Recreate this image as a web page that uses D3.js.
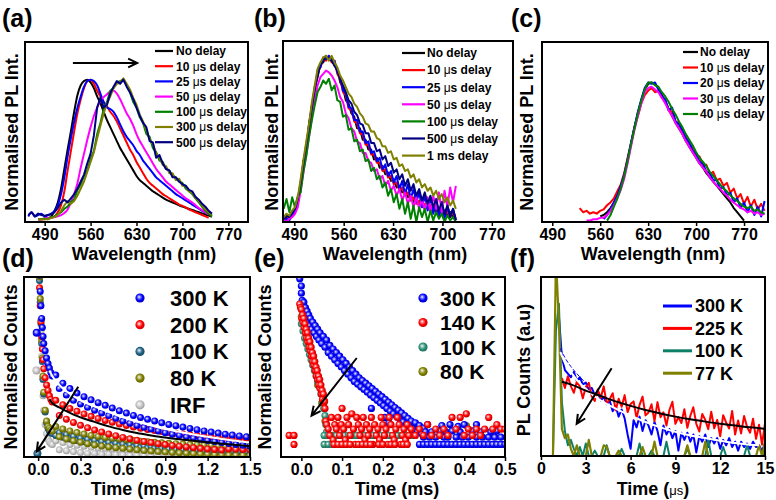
<!DOCTYPE html>
<html><head><meta charset="utf-8">
<script src="https://cdn.jsdelivr.net/npm/d3@7/dist/d3.min.js"></script>
<style>html,body{margin:0;padding:0;background:#fff;} svg{display:block}</style>
</head><body>
<svg id="chart" width="776" height="500"></svg>
<script>
// ================= DATA =================
const ticksWl = [490, 560, 630, 700, 770];
const ticksD = [0, 0.3, 0.6, 0.9, 1.2, 1.5];
const ticksE = [0, 0.1, 0.2, 0.3, 0.4, 0.5];
const ticksF = [0, 3, 6, 9, 12, 15];

// ---- (a) delayed PL spectra ----
const legendA = ["No delay","10 μs delay","25 μs delay","50 μs delay","100 μs delay","300 μs delay","500 μs delay"];
const wlA = [465,470,475,480,485,490,495,500,505,510,515,520,525,530,535,540,545,550,555,560,565,570,575,580,585,590,595,600,605,610,615,620,625,630,635,640,645,650,655,660,665,670,675,680,685,690,695,700,705,710,715,720,725,730,735,740,745];
const aNo   = [null,null,null,0,0,0.3,0.5,2,6,12,22,36,50,63,77,89,96,99,100,98,94,88,83,77,71,66,61,56,51,47,43,39,35,31,28,26,24,22,20,18.5,17,15.5,14,13,12,11,10,9,8.2,7.4,6.6,5.8,5,4.2,3.4,2.6,1.8];
const a10   = [null,null,null,0,0,0,0.5,1,2,5,10,20,35,49,63,76,86,94,99,100,97,92,88,84,81,77,74,70,65,60,55,50,46,41,37,33,29,26,24,22,20,18,16.5,15,13.5,12,10.5,9.5,8.5,7,6,5,4,3,2,1,null];
const a25   = [2,5,2,3,4,2,3,4,6,10,18,30,45,58,70,80,88,95,99,100,99,96,90,84,80,79,77,73,68,63,59,56,53,49,46,42,39,36,33,30,28,26,24,22,20,18,16.5,15,13.5,12,10.5,9,7.5,6,5,4,3];
const a50   = [null,null,null,0,0,0.5,1,1,1.5,2,3,4.5,7,12,18,26,37,47,57,66,74,80,85,87.5,89.5,91.5,92,90,86,81,76,72,67,61,56,52,48,44,40,36,33,30,27,25,23,21,19,17,15,13.5,12,10,8,6.5,5,3.5,null];
const a100  = [null,null,null,0,0,0.5,0,1.5,2,3.5,5,7.5,9,12.5,14,21,25,31,35,43,49,61,69,79,84,92,94,98,99,100,96,91,84,80,73,69,61,59,51,48,42,41,36,35,31,30,27,26,22,20,18,15,12,9,6,4,2];
const a300  = [null,null,null,0,0,0,0,1,1.5,3,6,10,13,11,13,17,22,27,34,41,48,58,67,76,83,88,94,97,98,101,97,93,87,82,75,70,64,57,54,47,44,39,38,33,33,28,29,24,24,20,19,15,13,10,7,5,3];
const a500  = [3,5,2,4,3,2.5,3,3.5,5,8,12,14,12,15,18,22,27,32,40,47,60,80,87,80,82,90,95,99,97,100,95,91,86,80,74,69,66,56,55,44,46,40,36,35,30,30,27,25,24,21,20,16,14,11,9,6,4];
const arrowA = [[533,112],[631,112]];

// ---- (b) ----
const legendB = ["No delay","10 μs delay","25 μs delay","50 μs delay","100 μs delay","500 μs delay","1 ms delay"];
const wlB = [475,479,483,487,491,495,499,503,507,511,515,519,523,527,531,535,539,543,547,551,555,559,563,567,571,575,579,583,587,591,595,599,603,607,611,615,619,623,627,631,635,639,643,647,651,655,659,663,667,671,675,679,683,687,691,695,699,703,707,711,715,719];
const bNo  = [1,3,2,5,7,13,20,36,44,60,69,82,88,96,97,101,99,100,95,93,85,82,74,72,66,64,57,57,50,50,44,44,38,39,33,34,29,30,25,26,21,22,18,19,15,16,12,14,10,12,8,10,7,9,6,8,5,7,4,6,3,4];
const b10  = [2,1,4,3,6,11,23,33,47,56,71,79,91,94,99,98,101,97,98,90,87,79,77,69,68,61,60,54,53,47,47,41,41,36,36,31,32,27,28,23,24,19,21,16,18,13,15,11,13,9,11,8,10,6,9,5,8,4,7,3,6,2];
const b25  = [0,2,1,4,6,14,21,37,43,59,71,80,92,94,100,99,101,98,98,91,88,80,78,70,69,62,62,55,55,48,49,42,43,37,39,32,35,28,31,24,28,20,25,17,23,14,20,12,18,9,16,7,15,5,13,3,12,2,10,4,8,1];
const b50  = [1,0,2,3,5,9,19,30,41,52,64,74,83,88,90,92,91,89,86,82,76,73,66,63,57,55,49,48,42,42,37,36,31,32,26,28,22,25,19,22,16,20,13,18,11,16,9,15,8,14,7,15,6,16,8,18,6,19,9,21,12,22];
const b100 = [8,14,6,15,9,16,18,31,40,52,62,71,79,82,86,84,87,80,83,74,73,64,65,56,57,49,50,43,44,37,38,31,33,26,28,21,24,16,20,12,17,8,14,5,12,2,10,0,9,3,8,0,7,1,6,2,5,0,4,1,3,0];
const b500 = [2,4,3,6,8,14,24,36,47,58,70,81,89,96,98,100,99,98,95,92,87,83,79,74,72,67,65,60,59,54,54,48,48,43,44,38,40,34,36,30,32,26,29,22,26,19,23,16,20,13,18,11,16,9,14,7,12,5,10,3,8,1];
const b1ms = [3,5,4,7,9,15,26,38,49,60,73,83,93,97,100,101,98,101,97,94,89,86,82,78,76,72,70,66,64,60,59,55,55,51,50,46,46,42,43,38,39,34,35,31,32,27,29,24,26,21,23,19,21,16,19,14,17,12,15,10,13,8];

// ---- (c) ----
const legendC = ["No delay","10 μs delay","20 μs delay","30 μs delay","40 μs delay"];
const wlC = [530,535,540,545,550,555,560,565,570,575,580,585,590,595,600,605,610,615,620,625,630,635,640,645,650,655,660,665,670,675,680,685,690,695,700,705,710,715,720,725,730,735,740,745,750,755,760,765,770,775,780,785,790,795,800];
const cNo = [null,null,null,null,null,null,4,5,7,10,14,19,25,33,44,56,68,78,87,95,99,100,99,96,91,86,81,76,71,67,63,58,54,50,46,42,39,35,32,29,26,23,20,17,14,10,7,4,1,null,null,null,null,null,null];
const c10 = [10,7,8,6,7,6,8,9,12,14,17,22,27,35,46,56,68,76,85,91,94,96,93,94,89,87,80,79,72,71,64,62,55,54,47,47,40,41,34,36,30,31,26,28,21,24,17,20,13,18,11,16,9,13,8];
const c20 = [null,null,null,null,null,null,null,2,5,9,14,19,26,34,45,57,68,79,88,96,100,99,100,95,90,88,80,82,72,70,66,60,57,51,49,43,42,36,35,30,30,24,25,19,21,14,17,10,14,7,12,5,11,4,15];
const c30 = [null,null,1,1,2,2,3,3,5,8,12,17,23,31,42,54,66,76,85,93,96,97,95,93,89,85,80,76,71,67,63,58,54,50,46,42,39,36,32,29,26,24,21,19,16,14,12,10,9,7,8,6,7,5,6];
const c40 = [null,null,null,null,null,null,null,null,1,5,11,17,24,33,44,56,67,78,87,95,100,100,98,97,93,90,86,81,77,72,68,63,59,55,50,46,43,40,36,33,30,27,24,22,19,17,15,13,11,10,11,8,9,7,6];

// ---- (d) decays, scatter ----
const legendD = ["300 K","200 K","100 K","80 K","IRF"];
const tD = [0,0.005,0.01,0.015,0.02,0.025,0.03,0.035,0.04,0.05,0.06,0.07,0.08,0.09,0.1,
 0.125,0.15,0.175,0.2,0.225,0.25,0.275,0.3,0.325,0.35,0.375,0.4,0.425,0.45,0.475,0.5,
 0.525,0.55,0.575,0.6,0.625,0.65,0.675,0.7,0.725,0.75,0.775,0.8,0.825,0.85,0.875,0.9,
 0.925,0.95,0.975,1.0,1.025,1.05,1.075,1.1,1.125,1.15,1.175,1.2,1.225,1.25,1.275,1.3,
 1.325,1.35,1.375,1.4,1.425,1.45,1.475,1.5];
const d300 = [118,110,101,92,84,77,72,67,63,59,55,52,49.5,47,45,
 45.5,38,41,34.5,38,31.5,35.5,29.5,33.5,27.6,31.8,26,30.2,24.5,28.7,23,
 27.2,21.5,25.7,20,24.4,18.8,23.1,17.5,22,16.5,21,15.5,20,14.5,19,13.5,
 18.1,12.7,17.4,12,16.6,11.2,15.9,10.5,15.2,9.8,14.5,9.2,13.9,8.6,13.3,8,
 12.7,7.5,12.2,7,11.7,6.5,11.2,6];
const d200 = [115,104,94,84,75,67,60,54,49,44,40,37,34,32,30.5,
 31.5,23,29,21,27,19.2,25.4,17.6,23.9,16.2,22.6,15,21.4,13.9,20.3,12.8,
 19.3,11.8,18.3,10.9,17.5,10.1,16.7,9.3,16,8.6,15.3,8,14.7,7.4,14.1,6.9,
 13.6,6.4,13.2,6,12.8,5.6,12.4,5.2,12,4.8,11.6,4.5,11.3,4.2,11,3.9,
 10.7,4.5,10.5,4.3,10.3,4.1,10.1,4];
const d100 = [120,110,98,86,74,63,53,43,35,25,19,16,14.5,13.5,13,
 12,13.5,11,12.5,10,11.5,9.2,10.5,8.5,9.8,8,9.2,7.5,8.6,7,8.1,
 6.5,7.6,6.2,7.2,5.8,6.8,5.5,6.4,5.2,6.1,5,5.8,4.8,5.6,4.6,5.3,
 4.4,5.1,4.2,4.9,4,4.7,3.9,4.5,3.8,4.3,3.6,4.1,3.5,4,3.4,3.8,
 3.3,3.7,3.2,3.6,3.1,3.5,3,3.3];
const d80 = [125,112,100,88,76,65,55,45,36,26,20,17,16,15,14.5,
 17,11.2,15.6,10,14.5,9,13.6,8.2,12.8,7.4,12,6.7,11.4,6.1,10.8,5.6,
 10.4,5.2,10,4.8,9.6,4.4,9.2,4,8.8,3.6,8.5,3.3,8.2,3,7.9,2.8,
 7.6,2.5,7.4,2.3,7.2,2.1,7,1.9,6.8,1.7,6.6,1.5,6.4,1.3,6.2,1.2,
 6.1,1.1,6,1,6,0.9,5.9,0.8];
const dIRF = [128,116,100,84,70,56,44,34,26,18,13,10,8.5,7.5,7,
 9,4,8,3.5,7,3,6.5,2.5,6,2,5.5,2,5,1.5,4.8,1.5,
 4.5,1.2,4.3,1.2,4.1,1,4,1,3.8,1,3.7,0.8,3.6,0.8,3.5,0.8,
 3.4,0.7,3.3,0.7,3.2,0.7,3.1,0.6,3,0.6,3,0.6,2.9,0.6,2.9,0.5,
 2.8,0.5,2.8,0.5,2.7,0.5,2.7,0.5];
const dExtra = [["300 K",-0.01,69],["IRF",-0.012,48],["100 K",-0.005,2]];
const fitD300 = [[0.08,48],[0.1,45],[0.15,40],[0.2,36.5],[0.3,31.5],[0.4,28],[0.5,25],[0.6,22],[0.7,19.5],[0.8,17.5],[0.9,15.5],[1.0,14],[1.1,12.5],[1.2,11.2],[1.3,10],[1.4,9],[1.5,8]];
const fitD200 = [[0.08,32],[0.1,30],[0.15,27.5],[0.2,25.5],[0.3,22],[0.4,19.5],[0.5,17],[0.6,15],[0.7,13.3],[0.8,12],[0.9,10.8],[1.0,9.8],[1.1,9],[1.2,8.2],[1.3,7.4],[1.4,6.7],[1.5,6]];
const arrowD = [[0.284,39],[-0.01,3]];

// ---- (e) ----
const legendE = ["300 K","140 K","100 K","80 K"];
const e300 = [[-0.004,99],[0,95],[0,91],[0.002,87],[0.004,84],[0.006,86],[0.008,80],[0.01,83],[0.012,77],[0.014,81],[0.016,75],[0.018,79],[0.02,73],[0.022,77],[0.025,71],[0.028,75],[0.031,69],[0.034,73],[0.037,67],[0.04,71],[0.043,65],[0.046,69],[0.05,63],[0.054,67],[0.058,61],[0.062,65],[0.066,58],[0.07,62],[0.074,56],[0.078,60],[0.082,54],[0.086,58],[0.09,52],[0.094,56],[0.098,50],[0.102,54],[0.106,48],[0.11,52],[0.114,46],[0.118,50],[0.122,44],[0.126,48],[0.13,42],[0.134,46],[0.138,40.5],[0.142,44],[0.146,39],[0.15,42.5],[0.154,37.5],[0.158,41],[0.162,36],[0.166,39.5],[0.17,34.5],[0.174,38],[0.178,33],[0.182,36.5],[0.186,31.5],[0.19,35],[0.194,30],[0.198,33.5],[0.202,28.5],[0.206,32],[0.21,27],[0.214,30.5],[0.218,25.5],[0.222,29],[0.226,24],[0.23,27.5],[0.234,22.5],[0.238,26],[0.242,21],[0.246,24.5],[0.25,19.5],[0.254,23],[0.258,18],[0.262,21.5],[0.266,17],[0.27,20],[0.275,15.5],[0.28,19],[0.285,14],[0.29,17.5],[0.295,13],[0.3,16],
 [0.172,27],[0.205,22],[0.215,19],
 [0.29,7],[0.3,7],[0.31,7],[0.32,7],[0.33,7],[0.34,7],[0.35,7],[0.36,7],[0.37,7],[0.38,7],[0.39,7],[0.4,7],[0.41,7],[0.42,7],[0.43,7],[0.44,7],[0.45,7],[0.46,7],[0.47,7],[0.48,7],[0.49,7],[0.5,7],
 [0.3,11],[0.315,11],[0.33,11],[0.35,11],[0.36,11],[0.38,11],[0.395,11],[0.41,11],[0.43,11],[0.445,11],[0.46,11],[0.475,11],[0.49,11],
 [0.305,14],[0.32,14],[0.34,14.5],[0.355,14],[0.37,14.5],[0.39,14],[0.42,14.5],[0.44,14],[0.465,14],[0.48,14.5],
 [0.31,18],[0.345,17.5],[0.365,18],[0.385,17],[0.4,18],[0.43,18]];
const e140 = [[-0.004,85],[-0.002,83],[0,82],[0.001,77],[0.003,79],[0.004,75],[0.006,77],[0.007,72],[0.009,74],[0.01,69],[0.012,71],[0.013,66],[0.015,69],[0.016,64],[0.018,66],[0.019,61],[0.021,64],[0.022,59],[0.024,61],[0.025,56],[0.027,58],[0.028,53],[0.03,56],[0.031,51],[0.033,53],[0.034,48],[0.036,50],[0.037,45],[0.039,48],[0.04,43],[0.042,45],[0.043,40],[0.045,43],[0.046,38],[0.048,40],[0.049,35],[0.051,37],[0.052,32],[0.054,35],[0.055,30],[0.057,31],[0.058,27],
 [0.06,20],[0.062,18],[0.066,15.5],[0.07,12],[0.074,22],[0.078,9.5],[0.082,18],[0.086,15.5],[0.09,22],[0.094,12],[0.098,18],[0.1,27],[0.104,15.5],[0.108,9.5],[0.112,22],[0.116,18],[0.12,12],[0.124,24],[0.128,15.5],[0.132,7],[0.136,22],[0.14,18],[0.144,12],[0.148,15.5],[0.152,22],[0.156,9.5],[0.16,18],[0.164,12],[0.168,15.5],[0.172,22],[0.176,7],[0.18,18],[0.184,12],[0.188,15.5],[0.192,9.5],[0.196,22],[0.2,18],[0.204,12],[0.208,15.5],[0.212,7],[0.216,22],[0.22,18],[0.224,12],[0.228,9.5],[0.232,15.5],[0.236,22],[0.24,18],[0.244,7],[0.248,12],[0.252,15.5],[0.256,9.5],[0.26,18],[0.264,12],[0.27,15.5],[0.28,12],[0.29,15.5],[0.3,12],[0.31,18],[0.32,12],[0.33,15.5],[0.34,12],[0.35,15.5],[0.36,12],[0.37,22],[0.38,15.5],[0.39,22],[0.4,12],[0.405,24],[0.41,15.5],[0.42,12],[0.43,15.5],[0.44,12],[0.45,15.5],[0.46,22],[0.47,15.5],[0.48,18],[0.49,15.5],[0.5,15.5],
 [0.08,7],[0.09,7],[0.1,7],[0.11,7],[0.12,7],[0.14,7],[0.15,7],[0.16,7],[0.17,7],[0.19,7],[0.2,7],[0.22,7],[0.23,7],[0.25,7],[0.26,7],
 [-0.03,12],[-0.018,12],[-0.018,7]];
const e100 = [[0,74],[0.004,70],[0.008,66],[0.012,63],[0.016,60],[0.02,57],[0.024,54],[0.028,51],[0.032,48],[0.036,45],[0.04,42],[0.044,39],[0.048,35],[0.052,31],[0.055,27],[0.058,23],[0.06,18],[0.062,14],
 [0.056,12],[0.066,12],[0.076,12],[0.086,12],[0.096,12],[0.106,12],[0.116,12],[0.126,12],[0.136,12],[0.146,12],[0.156,12],[0.166,12],[0.176,12],[0.186,12],[0.196,12],[0.206,12],[0.216,12],[0.226,12],[0.236,12],[0.246,12],[0.256,12],[0.266,12],[0.276,12],
 [0.056,7],[0.066,7],[0.076,7],[0.086,7],[0.096,7],[0.106,7]];
const e80 = [[0,78],[0.01,70],[0.02,62],[0.03,52],[0.04,40],[0.05,30],[0.058,20],[0.062,12],[0.14,12],[0.405,17.5]];
const arrowE = [[0.136,55],[0.025,23]];

// ---- (f) ----
const legendF = ["300 K","225 K","100 K","77 K"];
const tF = [0.8,1.0,1.2,1.4,1.6,1.8,2.0,2.2,2.4,2.6,2.8,3.0,3.2,3.4,3.6,3.8,4.0,4.2,4.4,4.6,4.8,5.0,5.2,5.4,5.6,5.8,6.0,6.2,6.4,6.6,6.8,7.0,7.2,7.4,7.6,7.8,8.0,8.2,8.4,8.6,8.8,9.0,9.2,9.4,9.6,9.8,10.0,10.2,10.4,10.6,10.8,11.0,11.2,11.4,11.6,11.8,12.0,12.2,12.4,12.6,12.8,13.0,13.2,13.4,13.6,13.8,14.0,14.2,14.4,14.6,14.8,15.0];
const f300 = [null,null,78,55,48,46,44,47,42,44,40,41,37,38,34,36,31,33,29,31,25,28,22,26,21,12,4,20,16,22,14,20,17,12,19,14,6,17,12,15,10,14,3,13,9,13,8,12,2,11,8,12,5,10,7,10,4,9,6,10,5,8,3,8,5,7,4,8,5,6,3,7];
const f225 = [null,null,null,43.5,38,44.5,39,35.3,41.6,38.9,32.2,38.5,40.9,33.3,30.7,37.1,32.5,38.9,29.3,31.7,35.1,25.5,32,27.5,34,24.5,29,30.5,21.1,28.6,33.2,22.7,24.3,28.9,19.5,30.1,21.7,24.4,17,25.7,30.3,18,21.7,18.4,26.1,15.8,22.5,27.2,18,13.7,23.5,20.2,15,24.7,15.5,20.2,11,22.8,18.6,15.4,25.2,12,19.8,12.6,22.4,16.2,13,20.8,9.6,17.5,6.3,18.2];
const f100 = [0,70,85,30,14,6,9,4,0,5, 0,7,0,0,3,0,0,0,6,0, 0,0,0,4,0,0,0,0,0,7, 0,0,0,3,0,0,0,0,8,0, 0,0,0,0,0,4,0,0,0,0, 0,0,9,0,0,0,0,5,0,0, 0,0,0,0,0,6,0,0,0,0, 0,3];
const f77  = [0,110,75,15,10,12,4,0,6,0, 0,0,9,0,0,0,0,6,5,0, 0,0,3,0,0,0,0,0,0,0, 5,0,0,0,8,0,0,0,0,0, 0,0,0,0,0,6,0,0,0,0, 0,8,0,0,0,0,0,0,0,0, 0,0,0,0,0,0,0,0,0,6, 0,8];
const fitF225 = [[1.4,41.5],[2,40],[3,36.5],[4,33.5],[5,30.5],[6,28],[7,25.7],[8,23.7],[9,22],[10,20.5],[11,19.2],[12,18],[13,17],[14,16],[15,15.2]];
const fitF300 = [[1.3,58],[1.6,52],[2,47],[2.5,41.5],[3,37.5],[3.5,34],[4,31],[5,26.5],[6,22.5],[7,19],[8,16],[9,13.5],[10,11.5],[11,10],[12,8.5],[13,7.2],[14,6.3],[14.6,6]];
const dashF300 = [[1.3,60],[1.6,55],[2,50],[2.4,46],[2.8,42.5],[3.2,39.5]];
const arrowF = [[4.73,49],[2.39,18]];

// ================= STYLE =================
const FONT = "'Liberation Sans', Arial, Helvetica, sans-serif";
const colA = ["#000000","#ff0000","#0000ff","#ff00ff","#008000","#808000","#000080"];
const colB = ["#000000","#ff0000","#0000ff","#ff00ff","#008000","#000080","#808000"];
const colC = ["#000000","#ff0000","#0000ff","#ff00ff","#008000"];
const colD = ["#0000ff","#ff0000","#1d5f82","#808000","#c4c4c4"];
const colE = ["#0000ff","#ff0000","#2a8f74","#808000"];
const colF = ["#0000ff","#ff0000","#0f8068","#808000"];

// ================= DRAW =================
const svg = d3.select("#chart");
const defs = svg.append("defs");

function makeSphere(id, color) {
  const c = d3.color(color);
  const g = defs.append("radialGradient").attr("id", id)
    .attr("cx","45%").attr("cy","45%").attr("r","58%").attr("fx","40%").attr("fy","38%");
  g.append("stop").attr("offset","0%").attr("stop-color","#ffffff");
  g.append("stop").attr("offset","25%").attr("stop-color", d3.interpolateRgb("#ffffff", color)(0.5));
  g.append("stop").attr("offset","60%").attr("stop-color", color);
  g.append("stop").attr("offset","100%").attr("stop-color", c.darker(0.8).formatHex());
}
colD.forEach((c,i)=>makeSphere("sd"+i, c));
colE.forEach((c,i)=>makeSphere("se"+i, c));

function makePanel(p) {
  const x = d3.scaleLinear().domain(p.xDom).range([p.x0, p.x1]);
  const y = d3.scaleLinear().domain(p.yDom).range([p.y1, p.y0]);
  defs.append("clipPath").attr("id","clip-"+p.id).append("rect")
    .attr("x",p.x0).attr("y",p.y0).attr("width",p.x1-p.x0).attr("height",p.y1-p.y0);
  const g = svg.append("g").attr("clip-path",`url(#clip-${p.id})`);
  return {x, y, g, p};
}

function txt(x, y, s, size, opts) {
  opts = opts || {};
  const t = svg.append("text").attr("x",x).attr("y",y).attr("font-family",FONT)
    .attr("font-weight","bold").attr("font-size",size).attr("fill","#000");
  if (opts.anchor) t.attr("text-anchor",opts.anchor);
  if (opts.rotate) t.attr("transform",`rotate(-90 ${x} ${y})`);
  s.split("μ").forEach((part,i)=>{
    if (i>0) {
      if (opts.muSize) {
        t.append("tspan").attr("font-weight","normal").attr("font-size",opts.muSize).text("μ"+part[0]);
        part = part.slice(1);
      } else {
        t.append("tspan").attr("font-weight","normal").text("μ");
      }
    }
    if (part) t.append("tspan").text(part);
  });
  return t;
}

function finishPanel(P, ticks, fmt) {
  const p = P.p;
  const ax = svg.append("g").attr("transform",`translate(0,${p.y1})`)
    .call(d3.axisBottom(P.x).tickValues(ticks).tickFormat(fmt).tickSize(4).tickPadding(2.5));
  ax.select(".domain").remove();
  ax.selectAll(".tick line").attr("stroke","#000").attr("stroke-width",1.5);
  ax.selectAll(".tick text").attr("font-size",16).attr("font-weight","bold")
    .attr("font-family",FONT).attr("fill","#000");
  svg.append("rect").attr("x",p.x0).attr("y",p.y0).attr("width",p.x1-p.x0).attr("height",p.y1-p.y0)
    .attr("fill","none").attr("stroke","#000").attr("stroke-width",2);
}

function drawLine(P, xs, ys, color, w, curve) {
  const pts = xs.map((v,i)=>[v, ys[i]]);
  P.g.append("path").datum(pts).attr("fill","none").attr("stroke",color)
    .attr("stroke-width",w).attr("stroke-linejoin","round")
    .attr("d", d3.line().defined(d=>d[1]!=null).x(d=>P.x(d[0])).y(d=>P.y(d[1])).curve(curve||d3.curveLinear));
}
function drawPairs(P, pts, color, w, dash) {
  const path = P.g.append("path").datum(pts).attr("fill","none").attr("stroke",color)
    .attr("stroke-width",w).attr("d", d3.line().x(d=>P.x(d[0])).y(d=>P.y(d[1])).curve(d3.curveMonotoneX));
  if (dash) path.attr("stroke-dasharray",dash);
}
function scatter(P, pts, grad, r) {
  P.g.append("g").selectAll("circle").data(pts.filter(d=>d[1]!=null)).join("circle")
    .attr("cx",d=>P.x(d[0])).attr("cy",d=>P.y(d[1])).attr("r",r).attr("fill",`url(#${grad})`);
}
function arrow(P, a) {
  const x1=P.x(a[0][0]), y1=P.y(a[0][1]), x2=P.x(a[1][0]), y2=P.y(a[1][1]);
  const ang=Math.atan2(y2-y1,x2-x1), L=10, s=0.45;
  const pa=d3.path();
  pa.moveTo(x1,y1); pa.lineTo(x2,y2);
  pa.moveTo(x2-L*Math.cos(ang-s), y2-L*Math.sin(ang-s)); pa.lineTo(x2,y2);
  pa.lineTo(x2-L*Math.cos(ang+s), y2-L*Math.sin(ang+s));
  svg.append("path").attr("d",pa.toString()).attr("fill","none").attr("stroke","#000")
    .attr("stroke-width",2).attr("stroke-linejoin","miter");
}
function lineLegend(labels, colors, o) {
  labels.forEach((lab,i)=>{
    const yy = o.y0 + o.dy*i;
    svg.append("line").attr("x1",o.x1).attr("x2",o.x2).attr("y1",yy).attr("y2",yy)
      .attr("stroke",colors[i]).attr("stroke-width",o.sw);
    txt(o.tx, yy + o.size*0.36, lab, o.size);
  });
}
function dotLegend(labels, grads, o) {
  labels.forEach((lab,i)=>{
    const yy = o.y0 + o.dy*i;
    svg.append("circle").attr("cx",o.cx).attr("cy",yy).attr("r",o.r).attr("fill",`url(#${grads[i]})`);
    txt(o.tx, yy + o.size*0.36, lab, o.size);
  });
}

// ----- Panel (a) -----
const PA = makePanel({id:"a", x0:25, x1:248, y0:42, y1:222, xDom:[460,800], yDom:[-2,127]});
[aNo,a10,a25,a50,a100,a300,a500].forEach((s,i)=>drawLine(PA, wlA, s, colA[i], 2, i<4 ? d3.curveMonotoneX : d3.curveLinear));
finishPanel(PA, ticksWl, d3.format("d"));
arrow(PA, arrowA);
lineLegend(legendA, colA, {x1:155, x2:173, tx:176, y0:51, dy:15.2, sw:2.2, size:12});

// ----- Panel (b) -----
const PB = makePanel({id:"b", x0:283, x1:513, y0:41, y1:222, xDom:[474,800], yDom:[0,110]});
[bNo,b10,b25,b50,b100,b500,b1ms].forEach((s,i)=>drawLine(PB, wlB, s, colB[i], 2));
finishPanel(PB, ticksWl, d3.format("d"));
lineLegend(legendB, colB, {x1:402, x2:425, tx:427, y0:53, dy:17.1, sw:2.2, size:12});

// ----- Panel (c) -----
const PC = makePanel({id:"c", x0:542, x1:768, y0:42, y1:222, xDom:[475,805], yDom:[0,129]});
[cNo,c10,c20,c30,c40].forEach((s,i)=>drawLine(PC, wlC, s, colC[i], 2));
finishPanel(PC, ticksWl, d3.format("d"));
lineLegend(legendC, colC, {x1:683, x2:698, tx:700, y0:52, dy:15.5, sw:2.2, size:12});

// ----- Panel (d) -----
const PD = makePanel({id:"d", x0:24, x1:250, y0:277, y1:457, xDom:[-0.1,1.5], yDom:[0,100]});
const dSeries = [d300,d200,d100,d80,dIRF];
[4,2,3,1,0].forEach(i=>scatter(PD, tD.map((t,k)=>[t, dSeries[i][k]]), "sd"+i, 3.5));
dExtra.forEach(e=>{ const i=legendD.indexOf(e[0]); scatter(PD, [[e[1],e[2]]], "sd"+i, 4); });
drawPairs(PD, fitD300, "#ffffff", 2);
drawPairs(PD, fitD200, "#000000", 2);
finishPanel(PD, ticksD, d3.format(".1f"));
arrow(PD, arrowD);
dotLegend(legendD, legendD.map((_,i)=>"sd"+i), {cx:140, tx:170, y0:298, dy:26.7, r:4.6, size:22});

// ----- Panel (e) -----
const PE = makePanel({id:"e", x0:281, x1:505, y0:277, y1:457, xDom:[-0.05,0.5], yDom:[0,100]});
scatter(PE, e80, "se3", 3.6);
scatter(PE, e100, "se2", 3.6);
scatter(PE, e300, "se0", 3.6);
scatter(PE, e140, "se1", 3.6);
finishPanel(PE, ticksE, d3.format(".1f"));
arrow(PE, arrowE);
dotLegend(legendE, legendE.map((_,i)=>"se"+i), {cx:423, tx:440, y0:298, dy:24.5, r:4.6, size:21});

// ----- Panel (f) -----
const PF = makePanel({id:"f", x0:541, x1:765, y0:277, y1:456, xDom:[0,15], yDom:[0,100]});
drawLine(PF, tF, f300, colF[0], 2);
drawLine(PF, tF, f225, colF[1], 2);
drawLine(PF, tF, f100, colF[2], 2);
drawLine(PF, tF, f77, colF[3], 2.2);
drawPairs(PF, fitF300, "#ffffff", 2);
drawPairs(PF, dashF300, "#0000ff", 1, "4,2");
drawPairs(PF, fitF225, "#000000", 2);
finishPanel(PF, ticksF, d3.format("d"));
arrow(PF, arrowF);
lineLegend(legendF, colF, {x1:663, x2:692, tx:695, y0:306, dy:22.4, sw:3, size:18});

// ----- Titles / labels -----
[["(a)",2,27],["(b)",254,27],["(c)",511,27],["(d)",2,267],["(e)",254,267],["(f)",510,267]]
  .forEach(l=>txt(l[1], l[2], l[0], 25));
txt(18, 132, "Normalised PL Int.", 18, {anchor:"middle", rotate:true});
txt(278, 132, "Normalised PL Int.", 18, {anchor:"middle", rotate:true});
txt(533, 132, "Normalised PL Int.", 18, {anchor:"middle", rotate:true});
txt(17, 367, "Normalised Counts", 18, {anchor:"middle", rotate:true});
txt(271, 367, "Normalised Counts", 18, {anchor:"middle", rotate:true});
txt(530, 370, "PL Counts (a.u)", 18, {anchor:"middle", rotate:true});
txt(144, 259.5, "Wavelength (nm)", 18, {anchor:"middle"});
txt(395, 259.5, "Wavelength (nm)", 18, {anchor:"middle"});
txt(653, 259.5, "Wavelength (nm)", 18, {anchor:"middle"});
txt(133, 495, "Time (ms)", 18, {anchor:"middle"});
txt(397, 495, "Time (ms)", 18, {anchor:"middle"});
txt(653, 495, "Time (μs)", 18, {anchor:"middle", muSize:13});
</script>
</body></html>
